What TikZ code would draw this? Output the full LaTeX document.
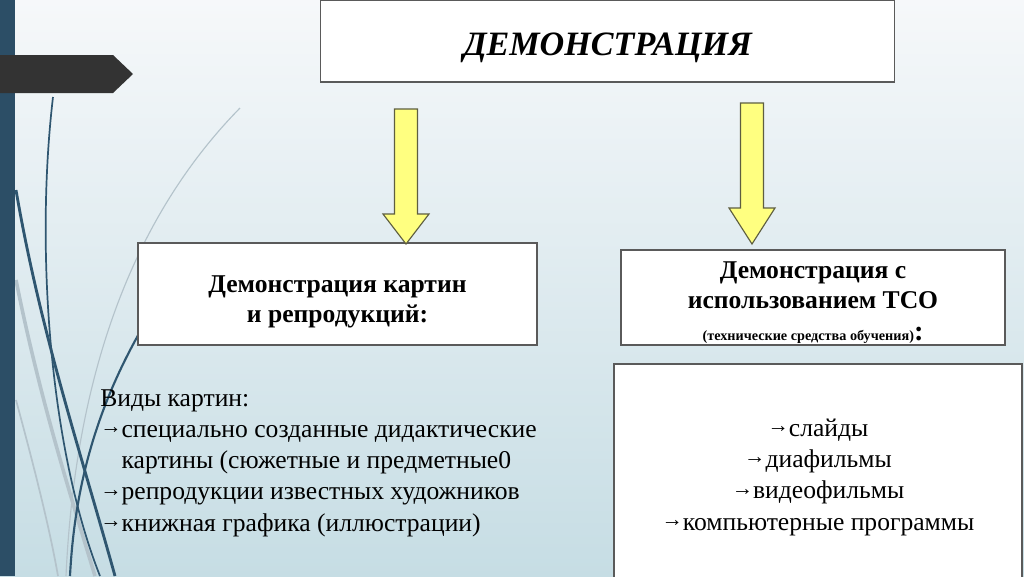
\documentclass[tikz,border=0pt]{standalone}
\usepackage{fontspec}
\setmainfont{Liberation Serif}
\definecolor{bgtop}{HTML}{F6F8FA}
\definecolor{bgbottom}{HTML}{C6DDE4}
\definecolor{bandblue}{HTML}{2C4E66}
\definecolor{tabgrey}{HTML}{333333}
\definecolor{curveblue}{HTML}{2F5670}
\definecolor{curvegrey}{HTML}{B4C3CB}
\definecolor{boxline}{HTML}{5A5A5A}
\definecolor{arrowfill}{HTML}{FFFF80}
\definecolor{arrowline}{HTML}{5E5E40}
\newcommand\barr{{\fontsize{15}{15}\selectfont\bfseries\raisebox{2.5pt}{→}}}
\begin{document}
\begin{tikzpicture}[x=0.703125pt,y=-0.703125pt]
    \tikzset{Box/.style={%
        draw=boxline,%
        fill=white,%
        line width=0.9pt,%
        align=center,%
        inner sep=0pt,%
    },
    YArrow/.style={%
        draw=arrowline,%
        fill=arrowfill,%
        line width=0.8pt,%
        line join=miter,%
    }}

    \useasboundingbox (0,0) rectangle (1024,576);
    \shade[top color=bgtop, bottom color=bgbottom] (0,0) rectangle (1024,576);

    % left decoration
    \draw[curvegrey, line width=0.8pt] (240,108) .. controls (130,220) and (75,380) .. (66,576);
    \draw[curvegrey, line width=2.5pt] (16,280) .. controls (40,400) and (72,500) .. (95,576);
    \draw[curvegrey, line width=1.2pt] (16,400) .. controls (35,470) and (50,530) .. (58,576);
    \draw[curveblue, line width=1.2pt] (53,97) .. controls (35,250) and (50,450) .. (100,576);
    \draw[curveblue, line width=2pt] (16,190) .. controls (40,330) and (80,450) .. (115,576);
    \draw[curveblue, line width=1.5pt] (180,270) .. controls (100,380) and (75,480) .. (70,576);
    \fill[bandblue] (0,0) rectangle (15,576);
    \fill[tabgrey] (0,55) -- (113,55) -- (133,74) -- (113,93) -- (0,93) -- cycle;

    % boxes
    \node[Box, minimum width=404pt, minimum height=57.7pt,
          font=\fontsize{24}{28}\selectfont\bfseries\itshape] (title) at (607.5,41)
        {\rule{0pt}{26pt}ДЕМОНСТРАЦИЯ};
    \node[Box, minimum width=280.5pt, minimum height=71.7pt,
          font=\fontsize{18}{21}\selectfont\bfseries] (pics) at (337.5,294)
        {\rule{0pt}{22.5pt}Демонстрация картин\\ и репродукций:};
    \node[Box, minimum width=270pt, minimum height=66.8pt,
          font=\fontsize{18}{20.5}\selectfont\bfseries] (tso) at (813,297.5)
        {\rule{0pt}{19pt}Демонстрация с\\ использованием ТСО\\[2pt]
         {\fontsize{10}{10}\selectfont (технические средства обучения)}{\fontsize{20}{9}\selectfont:}};
    \node[Box, minimum width=287pt, minimum height=152pt,
          font=\fontsize{18}{22}\selectfont] (tsolist) at (818,472)
        {\rule{0pt}{19.5pt}\barr слайды\\ \barr диафильмы\\ \barr видеофильмы\\ \barr компьютерные программы};
    \node[align=left, anchor=north west, inner sep=0pt,
          font=\fontsize{18}{22}\selectfont] (kinds) at (100,389)
        {Виды картин:\\
         \barr специально созданные дидактические\\
         \phantom{\barr}картины (сюжетные и предметные0\\
         \barr репродукции известных художников\\
         \barr книжная графика (иллюстрации)};

    % arrows
    \foreach \ax/\ay/\hl in {406/109/30, 752/103/36} {
        \draw[YArrow] (\ax-11.5,\ay) -- ++(23,0) -- ++(0,105) -- ++(11.5,0)
            -- ++(-23,\hl) -- ++(-23,-\hl) -- ++(11.5,0) -- cycle;
    }
\end{tikzpicture}
\end{document}
